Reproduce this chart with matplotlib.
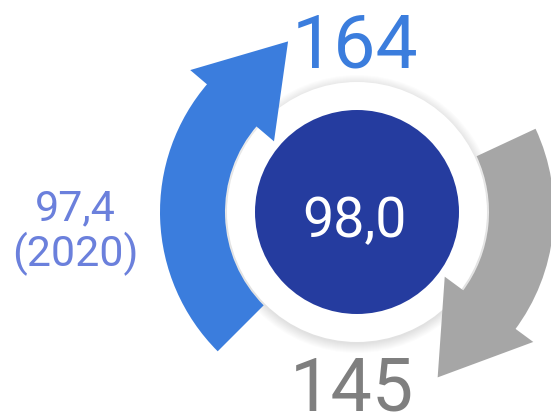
import numpy as np
import matplotlib
matplotlib.use("Agg")
import matplotlib.pyplot as plt
from matplotlib.patches import Wedge, Circle, Polygon

# values shown on the graphic
current_value = "98,0"
previous_value = "97,4"
previous_year = "(2020)"
upper_value = "164"
lower_value = "145"

BLUE = "#3b7ddd"
NAVY = "#253c9f"
GREY = "#a6a6a6"
GREY_TEXT = "#7f7f7f"
LIGHT_BLUE = "#6b80dc"

W, H = 551, 415
cx, cy = 357, H - 212   # centre of the ring (y up)
r_in, r_out = 132, 197


def arrow(ax, start, end, color):
    """clockwise arc from start to end (deg) with arrowhead at end"""
    ax.add_patch(Wedge((cx, cy), r_out, end, start, width=r_out - r_in,
                       facecolor=color, edgecolor="none", zorder=3))
    a = np.radians(end + 0.6)
    b1 = (cx + 109 * np.cos(a), cy + 109 * np.sin(a))
    b2 = (cx + 219 * np.cos(a), cy + 219 * np.sin(a))
    t = np.radians(end - 27)
    tip = (cx + 184 * np.cos(t), cy + 184 * np.sin(t))
    ax.add_patch(Polygon([b1, b2, tip], closed=True, facecolor=color,
                         edgecolor="none", zorder=3))


fig = plt.figure(figsize=(W / 100, H / 100), dpi=100)
ax = fig.add_axes([0, 0, 1, 1])
ax.set_xlim(0, W)
ax.set_ylim(0, H)
ax.set_aspect("equal")
ax.axis("off")

# soft shadow round the white disc, a bit lower than the disc
for k in range(10):
    ax.add_patch(Circle((cx, cy - 2), 139 - k, facecolor="black", alpha=0.011,
                        edgecolor="none", zorder=1))

arrow(ax, 225, 139, BLUE)
arrow(ax, 25, -37, GREY)

ax.add_patch(Circle((cx, cy), 130, facecolor="white", edgecolor="none", zorder=2))
ax.add_patch(Circle((cx, cy), 102, facecolor=NAVY, edgecolor="none", zorder=4))

font = "Roboto"
ax.text(355, H - 67, upper_value, color=BLUE, fontsize=54, ha="center",
        va="baseline", family=font, zorder=5)
ax.text(352, H - 410, lower_value, color=GREY_TEXT, fontsize=53, ha="center",
        va="baseline", family=font, zorder=5)
ax.text(354, H - 237, current_value, color="white", fontsize=40, ha="center",
        va="baseline", family=font, zorder=5)
ax.text(75, H - 220, previous_value, color=LIGHT_BLUE, fontsize=31, ha="center",
        va="baseline", family=font, zorder=5)
ax.text(75, H - 266, previous_year, color=LIGHT_BLUE, fontsize=31, ha="center",
        va="baseline", family=font, zorder=5)

fig.savefig("out.png", dpi=100)
